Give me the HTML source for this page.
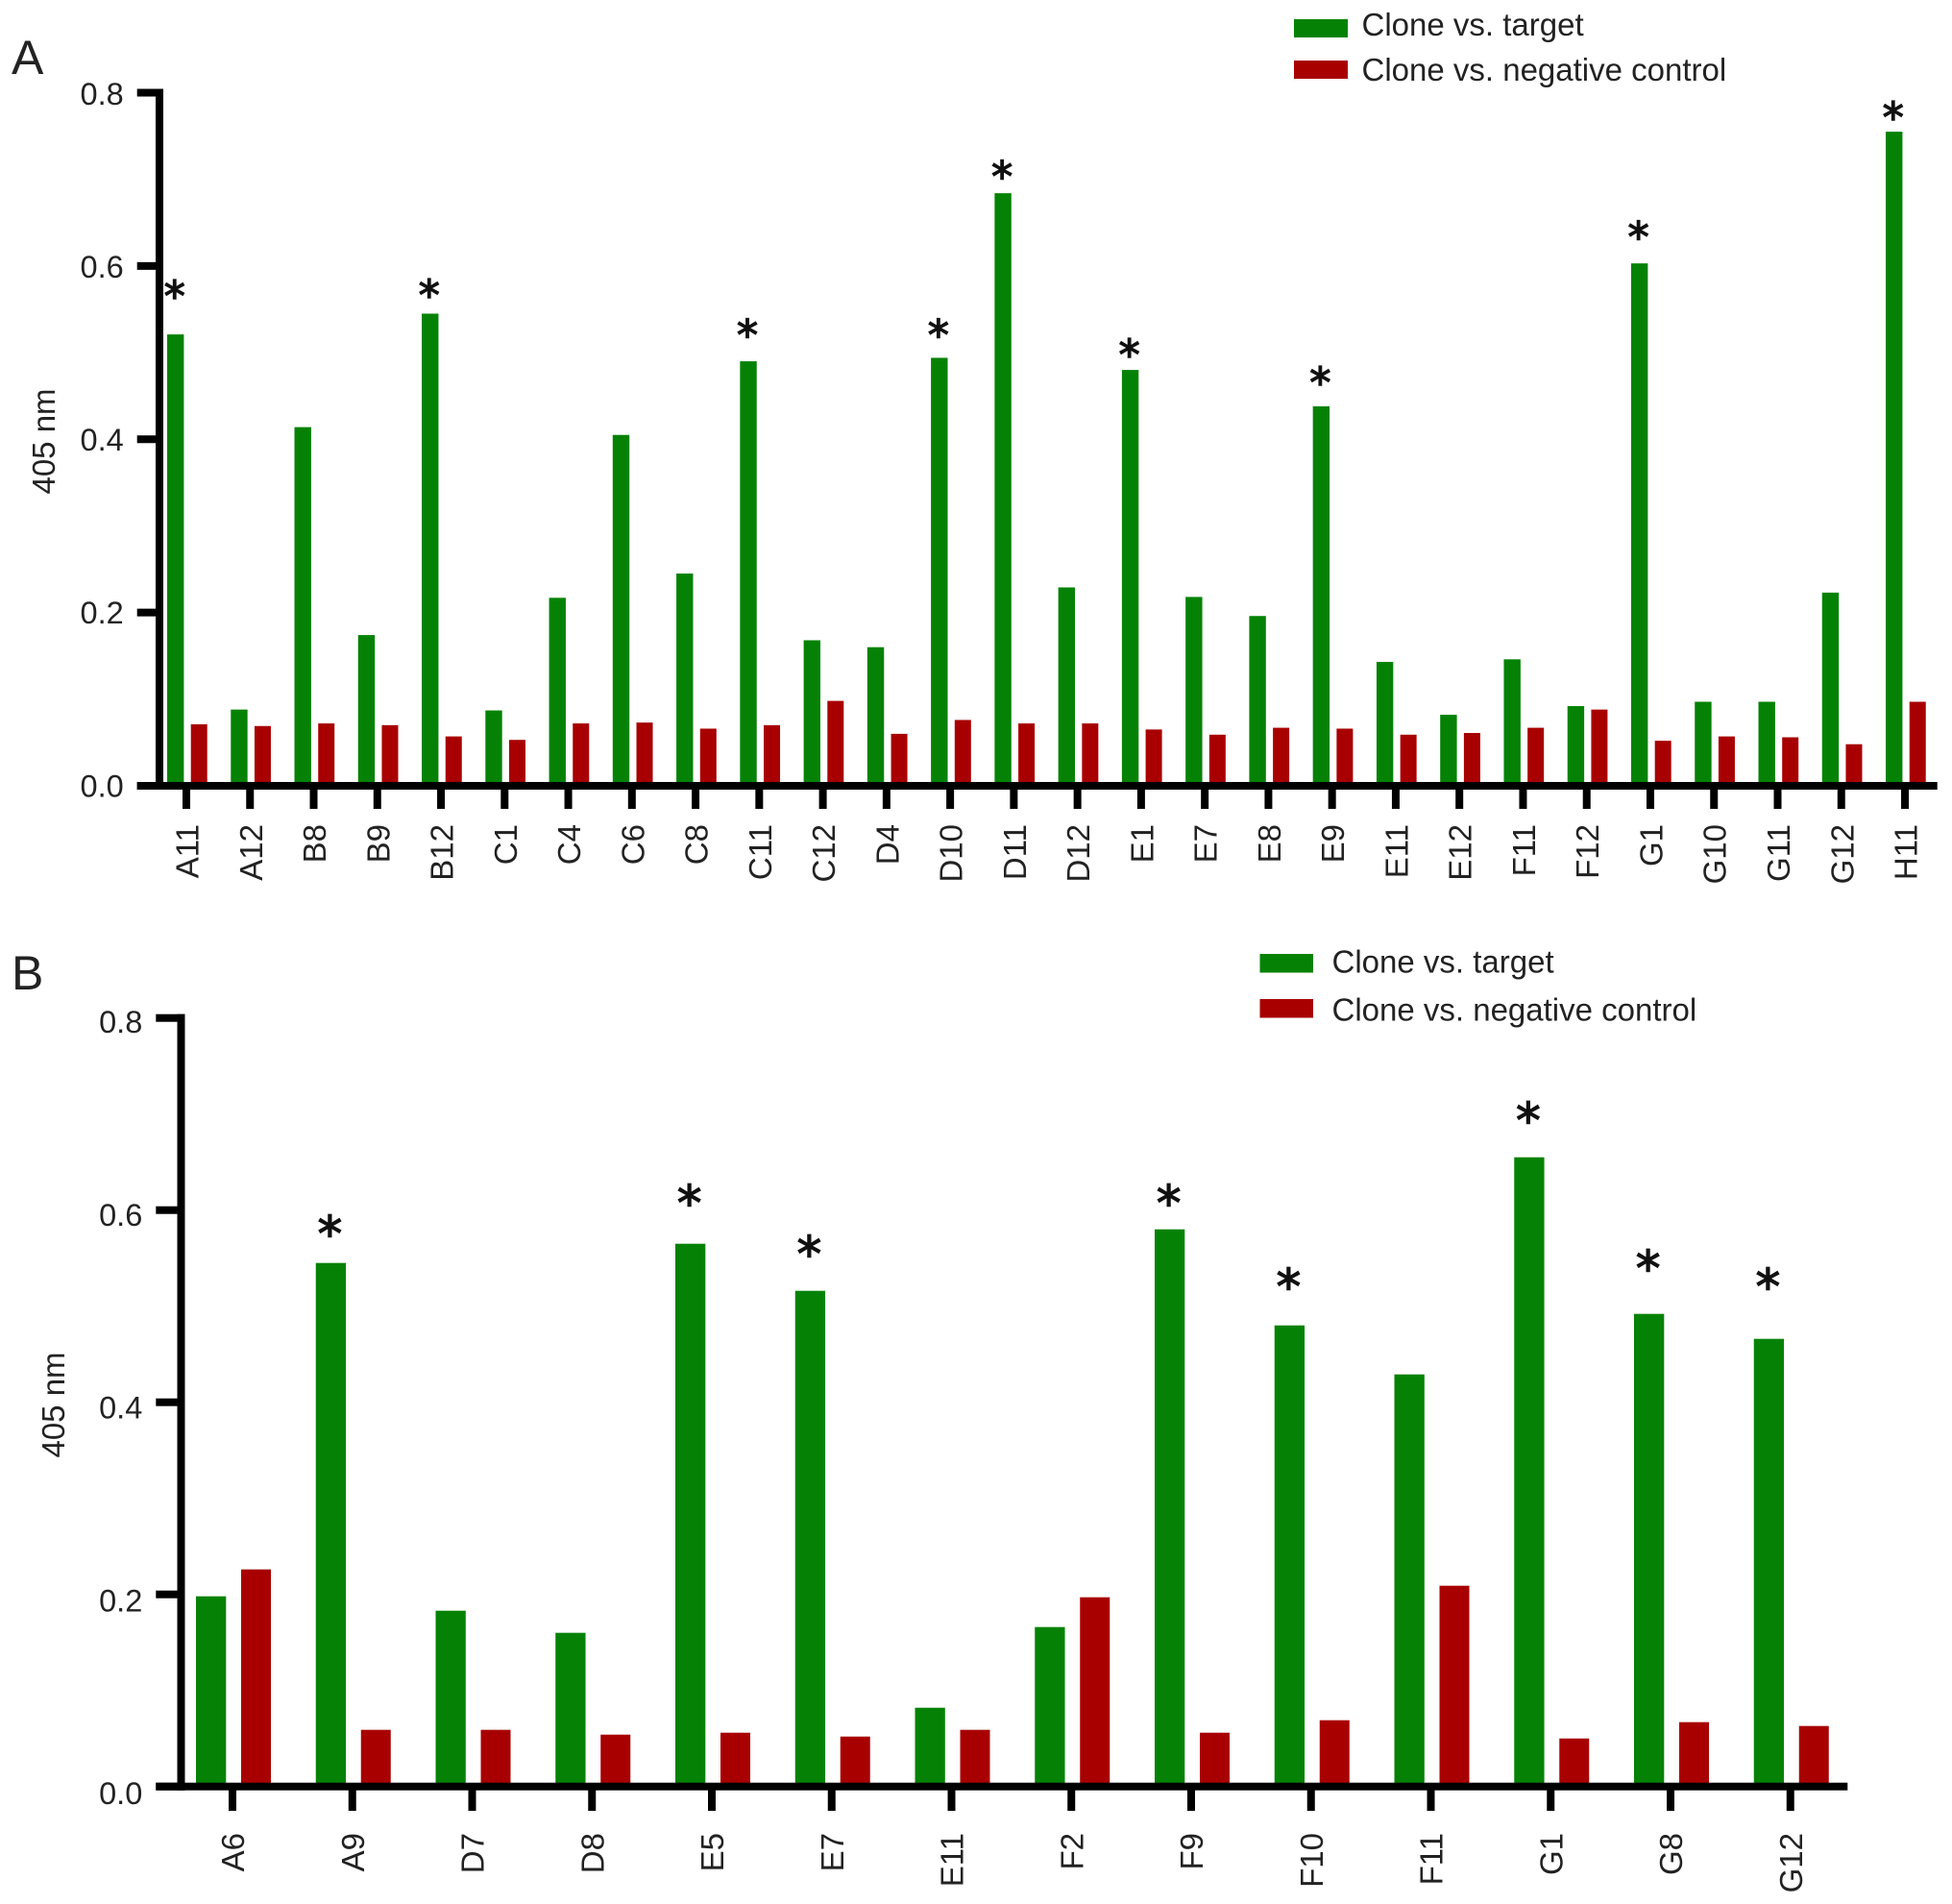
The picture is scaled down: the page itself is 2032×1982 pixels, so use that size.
<!DOCTYPE html>
<html lang="en">
<head>
<meta charset="utf-8">
<title>405 nm clone binding bar charts</title>
<style>
html,body{margin:0;padding:0;background:#fff;}
svg{display:block;}
text{font-family:"Liberation Sans",Arial,sans-serif;fill:#222;}
.star{font-family:"DejaVu Sans",sans-serif;fill:#111;stroke:#111;stroke-width:1.4;}
</style>
</head>
<body>
<svg id="figure" xmlns="http://www.w3.org/2000/svg" width="2032" height="1982" viewBox="0 0 2032 1982">
  <rect x="0" y="0" width="2032" height="1982" fill="#fff"/>
  <text x="12" y="77" font-size="50">A</text>
  <text x="12" y="1030" font-size="50">B</text>

  <g>
    <rect x="1347" y="20" width="56" height="19" fill="#058205"/>
    <text x="1417.5" y="37" font-size="33">Clone vs. target</text>
    <rect x="1347" y="63" width="56" height="19" fill="#a80000"/>
    <text x="1417.5" y="84" font-size="33">Clone vs. negative control</text>
  </g>
  <g>
    <rect x="1311.5" y="993" width="55.5" height="19.5" fill="#058205"/>
    <text x="1386.5" y="1012.5" font-size="33">Clone vs. target</text>
    <rect x="1311.5" y="1040" width="55.5" height="19.5" fill="#a80000"/>
    <text x="1386.5" y="1062.5" font-size="33">Clone vs. negative control</text>
  </g>

  <text transform="translate(57 459.5) rotate(-90)" text-anchor="middle" font-size="33">405 nm</text>
  <text transform="translate(67 1462.5) rotate(-90)" text-anchor="middle" font-size="33">405 nm</text>
  <g id="panel-a"></g>
  <g id="panel-b"></g>
</svg>
<script>
var yTickValues = [0, 0.2, 0.4, 0.6, 0.8];
var yTickLabels = ["0.0", "0.2", "0.4", "0.6", "0.8"];

var categoriesA = ["A11","A12","B8","B9","B12","C1","C4","C6","C8","C11","C12","D4","D10","D11","D12","E1","E7","E8","E9","E11","E12","F11","F12","G1","G10","G11","G12","H11"];
var targetA = [0.521,0.088,0.414,0.174,0.545,0.087,0.217,0.405,0.245,0.490,0.168,0.160,0.494,0.684,0.229,0.480,0.218,0.196,0.438,0.143,0.082,0.146,0.092,0.603,0.097,0.097,0.223,0.755];
var negativeA = [0.071,0.069,0.072,0.070,0.057,0.053,0.072,0.073,0.066,0.070,0.098,0.060,0.076,0.072,0.072,0.065,0.059,0.067,0.066,0.059,0.061,0.067,0.088,0.052,0.057,0.056,0.048,0.097];
var starGapA = [0.050,null,null,null,0.027,null,null,null,null,0.036,null,null,0.032,0.025,null,0.023,null,null,0.033,null,null,null,null,0.036,null,null,null,0.022];

var categoriesB = ["A6","A9","D7","D8","E5","E7","E11","F2","F9","F10","F11","G1","G8","G12"];
var targetB = [0.198,0.545,0.183,0.160,0.565,0.516,0.082,0.166,0.580,0.480,0.429,0.655,0.492,0.466];
var negativeB = [0.226,0.059,0.059,0.054,0.056,0.052,0.059,0.197,0.056,0.069,0.209,0.050,0.067,0.063];
var starGapB = [null,0.036,null,null,0.048,0.044,null,null,0.033,0.046,null,0.044,0.053,0.060];

var SVG_NS = "http://www.w3.org/2000/svg";
var GREEN = "#058205";
var RED = "#a80000";
var AXIS_MAX = 0.8;

function make(parent, tag, attrs, text) {
  var el = document.createElementNS(SVG_NS, tag);
  for (var key in attrs) { el.setAttribute(key, attrs[key]); }
  if (text !== undefined) { el.textContent = text; }
  parent.appendChild(el);
  return el;
}

function drawPanel(root, suffix, cats, target, negative, gaps, o) {
  function yScale(v) { return o.yZero - (o.yZero - o.yTop) * v / AXIS_MAX; }
  function xScale(i) { return o.xFirst + o.xStep * i; }
  function labelY(v) { return yScale(v) + o.labelOff0 + (o.labelOff8 - o.labelOff0) * v / AXIS_MAX; }

  cats.forEach(function (cat, i) {
    var cx = xScale(i);
    var gTop = yScale(target[i]);
    var green = make(root, "rect", {x: cx + o.gLeft, y: gTop, width: o.gWidth, height: o.yZero - gTop, fill: GREEN});
    
    

    var rTop = yScale(negative[i]);
    var red = make(root, "rect", {x: cx + o.rLeft, y: rTop, width: o.rWidth, height: o.yZero - rTop, fill: RED});
    
    

    if (gaps[i] !== null) {
      var sy = yScale(target[i] + gaps[i]) + 0.46 * o.starSize;
      var star = make(root, "text", {x: cx + o.gLeft + o.gWidth / 2 - 1, y: sy, "font-size": o.starSize, "text-anchor": "middle", "class": "star"}, "*");
      
      
    }

    var tick = make(root, "rect", {x: cx - 4, y: o.yZero, width: 8, height: o.tickBottom - o.yZero, fill: "#000"});
    
    

    var lx = cx + o.xLabelOff;
    var label = make(root, "text", {transform: "translate(" + lx + " " + o.xLabelEnd + ") rotate(-90)", "text-anchor": "end", "font-size": 33}, cat);
    
    
  });

  var yAxis = make(root, "rect", {x: o.axisX - 4, y: yScale(AXIS_MAX) - 4, width: 8, height: o.yZero - yScale(AXIS_MAX) + 8, fill: "#000"});
  
  

  var xAxis = make(root, "rect", {x: o.tickLeft, y: o.yZero - 4, width: o.xAxisEnd - o.tickLeft, height: 8, fill: "#000"});
  
  

  yTickValues.forEach(function (v, i) {
    var t = make(root, "rect", {x: o.tickLeft, y: yScale(v) - 4, width: o.axisX + 4 - o.tickLeft, height: 8, fill: "#000"});
    
    

    var lab = make(root, "text", {x: o.tickLeft - 14, y: labelY(v), "text-anchor": "end", "font-size": 32.5}, yTickLabels[i]);
    
    
  });
}

drawPanel(document.getElementById("panel-a"), "a", categoriesA, targetA, negativeA, starGapA, {
  yZero: 818, yTop: 96.5, xFirst: 194, xStep: 66.26,
  gLeft: -20, gWidth: 17.4, rLeft: 4.7, rWidth: 17,
  axisX: 166, tickLeft: 142.7, xAxisEnd: 2016.7, tickBottom: 842,
  xLabelOff: 12.5, xLabelEnd: 858, labelOff0: 11.3, labelOff8: 12.5, starSize: 44
});

drawPanel(document.getElementById("panel-b"), "b", categoriesB, targetB, negativeB, starGapB, {
  yZero: 1859.7, yTop: 1059.7, xFirst: 242, xStep: 124.75,
  gLeft: -38, gWidth: 31.3, rLeft: 9, rWidth: 31,
  axisX: 188.5, tickLeft: 162.3, xAxisEnd: 1923.3, tickBottom: 1885,
  xLabelOff: 12, xLabelEnd: 1908, labelOff0: 18.3, labelOff8: 15.3, starSize: 51
});
</script>
</body>
</html>
